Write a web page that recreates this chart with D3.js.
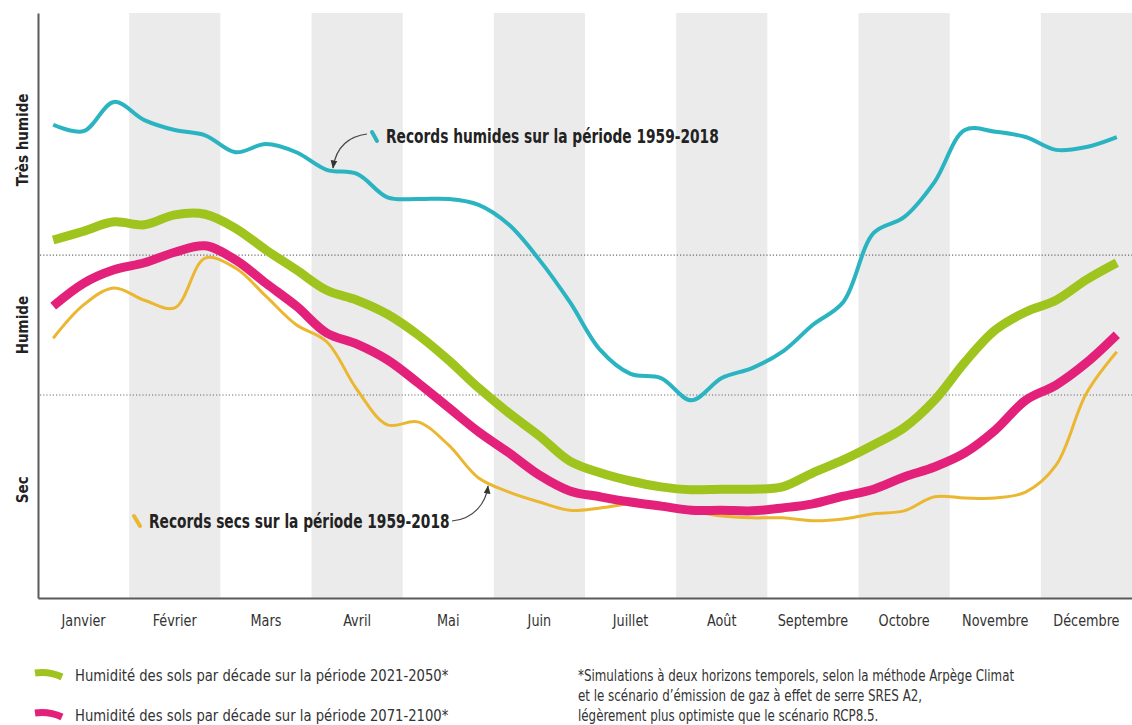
<!DOCTYPE html>
<html>
<head>
<meta charset="utf-8">
<script src="https://cdn.jsdelivr.net/npm/d3@7"></script>
<style>
  body { margin: 0; background: #fff; }
  svg { display: block; }
  .narrow { font-family: "Liberation Sans Narrow", "DejaVu Sans Condensed", "Roboto", sans-serif; }
</style>
</head>
<body>
<svg id="chart" width="1132" height="725"></svg>
<script>
// months on the x axis
const months = ["Janvier", "Février", "Mars", "Avril", "Mai", "Juin", "Juillet", "Août",
  "Septembre", "Octobre", "Novembre", "Décembre"];

// humidity index, one value per decade (3 per month), 0 = very dry, 100 = very wet
const recordsHumides = [80.9, 79.8, 84.8, 81.7, 80.0, 79.1, 76.2, 77.6, 76.2, 73.2, 72.5, 68.5,
  68.2, 68.2, 67.2, 63.8, 57.8, 50.6, 42.4, 38.3, 37.6, 33.8, 37.6, 39.3,
  42.1, 46.7, 50.6, 62.4, 65.1, 71.1, 80.0, 79.7, 78.8, 76.6, 77.1, 78.8];
const humidite2021 = [61.2, 62.7, 64.3, 63.8, 65.5, 65.6, 63.2, 59.5, 56.1, 52.6, 50.9, 48.5,
  45.0, 40.7, 35.9, 31.6, 27.7, 23.4, 21.4, 20.0, 19.0, 18.5, 18.6, 18.6,
  19.0, 21.4, 23.6, 26.2, 29.1, 33.8, 40.3, 45.8, 48.9, 50.9, 54.4, 57.3];
const humidite2071 = [49.9, 53.8, 56.1, 57.3, 59.1, 60.2, 57.8, 53.8, 49.9, 45.3, 43.4, 40.7,
  36.8, 32.6, 28.4, 24.8, 21.0, 18.3, 17.3, 16.4, 15.7, 15.0, 15.0, 14.9,
  15.4, 16.1, 17.4, 18.6, 20.7, 22.4, 24.8, 28.7, 33.8, 36.4, 40.2, 45.0];
const recordsSecs = [44.4, 50.1, 53.0, 50.9, 49.6, 58.1, 56.4, 51.6, 46.7, 43.8, 35.6, 29.6,
  30.1, 26.2, 20.5, 18.1, 16.4, 15.0, 15.4, 16.1, 16.2, 14.9, 14.0, 13.7,
  13.7, 13.2, 13.5, 14.4, 14.9, 17.3, 17.1, 17.1, 18.1, 22.7, 35.0, 42.1];

// class limits (dotted lines) and the class labels on the y axis
const thresholds = [34.7, 58.6];
const classLabels = ["Sec", "Humide", "Très humide"];
const classCenters = [18.5, 46.65, 78.3];

const legendLabels = [
  "Humidité des sols par décade sur la période 2021-2050*",
  "Humidité des sols par décade sur la période 2071-2100*"
];
const footnote = [
  "*Simulations à deux horizons temporels, selon la méthode Arpège Climat",
  "et le scénario d’émission de gaz à effet de serre SRES A2,",
  "légèrement plus optimiste que le scénario RCP8.5."
];

const colors = { humides: "#2ab3c0", y2021: "#9fc41d", y2071: "#e3217a", secs: "#ebb731" };

const svg = d3.select("#chart");
const plotLeft = 38, plotRight = 1132, plotTop = 13, plotBottom = 598;

// squeeze text horizontally to mimic the condensed face of the original
function condense(sel, factor) {
  sel.each(function () {
    const w = this.getComputedTextLength();
    d3.select(this).attr("textLength", w * factor).attr("lengthAdjust", "spacingAndGlyphs");
  });
}

const xMonth = d3.scaleBand().domain(months).range([plotLeft, plotRight]);
const x = d3.scaleLinear().domain([0, 36]).range([plotLeft, plotRight]);
const y = d3.scaleLinear().domain([0, 100]).range([plotBottom, plotTop]);

// alternate grey month columns
svg.append("g").selectAll("rect")
  .data(months.filter((m, i) => i % 2 === 1))
  .join("rect")
  .attr("x", d => xMonth(d))
  .attr("y", plotTop)
  .attr("width", xMonth.bandwidth())
  .attr("height", plotBottom - plotTop)
  .attr("fill", "#ebebeb");

// dotted class limits
svg.append("g").selectAll("line")
  .data(thresholds)
  .join("line")
  .attr("x1", plotLeft + 2).attr("x2", plotRight)
  .attr("y1", d => y(d)).attr("y2", d => y(d))
  .attr("stroke", "#6d6d6d")
  .attr("stroke-width", 1.2)
  .attr("stroke-dasharray", "1.2,2");

// axes
const xAxis = svg.append("g")
  .attr("transform", `translate(0,${plotBottom})`)
  .call(d3.axisBottom(xMonth).tickSize(0).tickSizeOuter(0).tickPadding(17));
xAxis.select(".domain").attr("stroke", "#5a5a5a").attr("stroke-width", 2);
xAxis.selectAll("text")
  .attr("class", "narrow")
  .attr("fill", "#333")
  .style("font-size", "15px")
  .call(condense, 0.95);

const yAxis = svg.append("g")
  .attr("transform", `translate(${plotLeft},0)`)
  .call(d3.axisLeft(y).tickValues([]).tickSizeOuter(0));
yAxis.select(".domain").attr("stroke", "#5a5a5a").attr("stroke-width", 2);

svg.append("g").selectAll("text")
  .data(classLabels)
  .join("text")
  .attr("class", "narrow")
  .attr("transform", (d, i) => `translate(28,${y(classCenters[i])}) rotate(-90)`)
  .attr("text-anchor", "middle")
  .attr("font-weight", "bold")
  .attr("font-size", 15)
  .attr("fill", "#222")
  .text(d => d);

// series
const line = d3.line()
  .x((d, i) => x(i + 0.5))
  .y(d => y(d))
  .curve(d3.curveCatmullRom.alpha(0.5));

const series = [
  { values: recordsHumides, color: colors.humides, width: 4 },
  { values: recordsSecs, color: colors.secs, width: 3 },
  { values: humidite2021, color: colors.y2021, width: 9 },
  { values: humidite2071, color: colors.y2071, width: 9 }
];

svg.append("g").selectAll("path")
  .data(series)
  .join("path")
  .attr("d", d => line(d.values))
  .attr("fill", "none")
  .attr("stroke", d => d.color)
  .attr("stroke-width", d => d.width)
  .attr("stroke-linecap", "butt")
  .attr("stroke-linejoin", "round");

// arrowheads for the annotations
svg.append("defs").append("marker")
  .attr("id", "arrow")
  .attr("viewBox", "0 0 10 10")
  .attr("refX", 9).attr("refY", 5)
  .attr("markerWidth", 7).attr("markerHeight", 7)
  .attr("orient", "auto")
  .append("path")
  .attr("d", "M0,1 L10,5 L0,9 Z")
  .attr("fill", "#333");

// annotation: records humides
const annHum = svg.append("g");
annHum.append("path")
  .attr("d", "M367,134 C350,136 336,146 333,168")
  .attr("fill", "none").attr("stroke", "#444").attr("stroke-width", 1.2)
  .attr("marker-end", "url(#arrow)");
annHum.append("line")
  .attr("x1", 372).attr("y1", 132).attr("x2", 377).attr("y2", 141)
  .attr("stroke", colors.humides).attr("stroke-width", 4).attr("stroke-linecap", "round");
annHum.append("text")
  .attr("class", "narrow")
  .attr("x", 386).attr("y", 143)
  .attr("font-weight", "bold").attr("font-size", 19).attr("fill", "#222")
  .text("Records humides sur la période 1959-2018")
  .call(condense, 0.805);

// annotation: records secs
const annSec = svg.append("g");
annSec.append("path")
  .attr("d", "M452,521 C474,519 486,503 488,486")
  .attr("fill", "none").attr("stroke", "#444").attr("stroke-width", 1.2)
  .attr("marker-end", "url(#arrow)");
annSec.append("line")
  .attr("x1", 134).attr("y1", 516).attr("x2", 140).attr("y2", 526)
  .attr("stroke", colors.secs).attr("stroke-width", 4).attr("stroke-linecap", "round");
annSec.append("text")
  .attr("class", "narrow")
  .attr("x", 149).attr("y", 528)
  .attr("font-weight", "bold").attr("font-size", 19).attr("fill", "#222")
  .text("Records secs sur la période 1959-2018")
  .call(condense, 0.805);

// legend
const legend = svg.append("g").selectAll("g")
  .data(legendLabels)
  .join("g")
  .attr("transform", (d, i) => `translate(35,${676 + i * 40})`);
legend.append("path")
  .attr("d", "M0,-3 Q14,-5 27,1")
  .attr("fill", "none")
  .attr("stroke", (d, i) => i === 0 ? colors.y2021 : colors.y2071)
  .attr("stroke-width", 7);
legend.append("text")
  .attr("class", "narrow")
  .attr("x", 40).attr("y", 5)
  .attr("font-size", 15.5).attr("fill", "#333")
  .text(d => d)
  .call(condense, 0.945);

// footnote
svg.append("g").selectAll("text")
  .data(footnote)
  .join("text")
  .attr("class", "narrow")
  .attr("x", 578)
  .attr("y", (d, i) => 681 + i * 20)
  .attr("font-size", 15).attr("fill", "#333")
  .text(d => d)
  .call(condense, 0.88);
</script>
</body>
</html>
